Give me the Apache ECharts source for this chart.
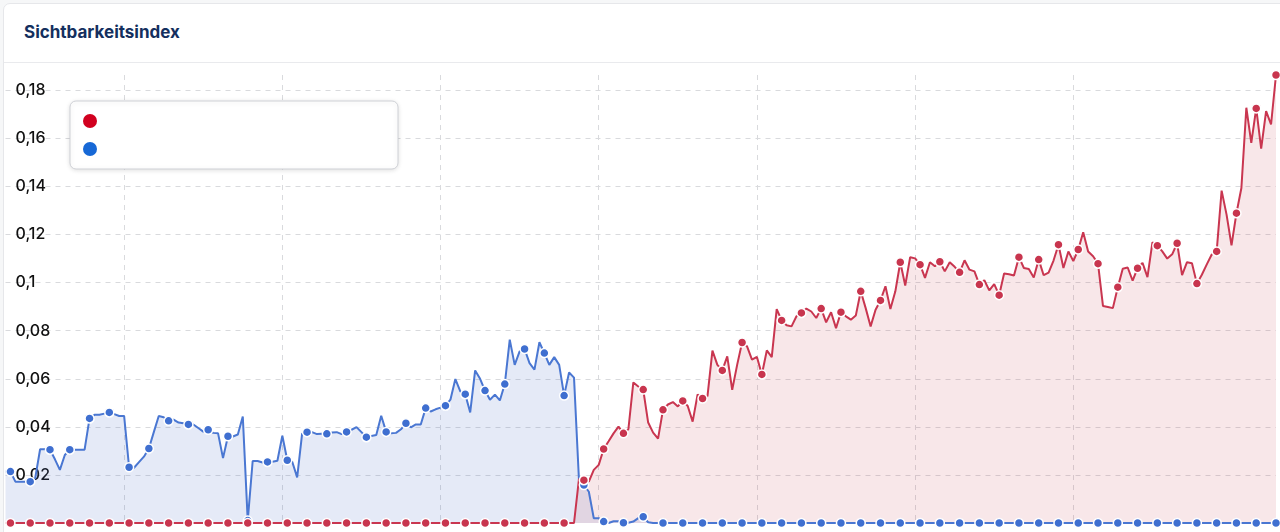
<!DOCTYPE html>
<html>
<head>
<meta charset="utf-8">
<style>
  html, body { margin: 0; padding: 0; width: 1280px; height: 532px; background: #f6f7f8; overflow: hidden; font-family: Inter, "Liberation Sans", Arial, sans-serif; }
  #card { position: absolute; left: 3px; top: 3px; width: 1290px; height: 560px; background: #fff; border: 1px solid #e6e7ea; border-radius: 7px; box-sizing: border-box; }
  #head { position: absolute; left: 0; top: 0; right: 0; height: 58px; border-bottom: 1px solid #e9eaed; }
  #head span { position: absolute; left: 20px; top: 18px; font-size: 17px; font-weight: bold; color: #142f5e; }
  #chart { position: absolute; left: 0; top: 0; width: 1280px; height: 532px; }
</style>
</head>
<body>
  <div id="card"><div id="head"><span>Sichtbarkeitsindex</span></div></div>
  <div id="chart"></div>
  <script src="https://cdn.jsdelivr.net/npm/echarts@6.0.0/dist/echarts.min.js"></script>
  <script>

// weekly values, 258 points
var blue_values = [
  0.0214, 0.0214, 0.0172, 0.0172, 0.0172, 0.0172, 0.0186, 0.0307, 0.0307, 0.0305,
  0.0265, 0.0221, 0.0283, 0.0305, 0.0305, 0.0305, 0.0305, 0.0435, 0.045, 0.045,
  0.0455, 0.046, 0.0453, 0.0445, 0.0445, 0.0232, 0.023, 0.0253, 0.0276, 0.031,
  0.0378, 0.0445, 0.044, 0.0425, 0.043, 0.0418, 0.0415, 0.041, 0.041, 0.0395,
  0.038, 0.0388, 0.0375, 0.0373, 0.027, 0.0361, 0.036, 0.0368, 0.0443, 0.001,
  0.0258, 0.0258, 0.0252, 0.0254, 0.0255, 0.0259, 0.0363, 0.0261, 0.0255, 0.019,
  0.0372, 0.0378, 0.0378, 0.037, 0.0371, 0.0371, 0.0377, 0.0378, 0.037, 0.0379,
  0.0388, 0.0399, 0.0378, 0.0357, 0.0362, 0.0366, 0.0446, 0.0379, 0.0373, 0.0375,
  0.039, 0.0415, 0.0398, 0.041, 0.041, 0.0478, 0.0464, 0.0473, 0.048, 0.0488,
  0.0513, 0.0599, 0.0548, 0.0536, 0.046, 0.0635, 0.06, 0.0551, 0.0513, 0.0534,
  0.051, 0.0578, 0.0763, 0.0658, 0.0714, 0.0724, 0.0665, 0.0638, 0.0752, 0.0707,
  0.0658, 0.069, 0.0658, 0.053, 0.0626, 0.0605, 0.018, 0.0158, 0.013, 0.002,
  0.002, 0.0006, 0, 0.0007, 0.0007, 0.0001, 0.0001, 0.0006, 0.002, 0.0026,
  0.0003, 0, 0, 0, 0, 0, 0, 0, 0, 0,
  0, 0, 0, 0, 0, 0, 0, 0, 0, 0,
  0, 0, 0, 0, 0, 0, 0, 0, 0, 0,
  0, 0, 0, 0, 0, 0, 0, 0, 0, 0,
  0, 0, 0, 0, 0, 0, 0, 0, 0, 0,
  0, 0, 0, 0, 0, 0, 0, 0, 0, 0,
  0, 0, 0, 0, 0, 0, 0, 0, 0, 0,
  0, 0, 0, 0, 0, 0, 0, 0, 0, 0,
  0, 0, 0, 0, 0, 0, 0, 0, 0, 0,
  0, 0, 0, 0, 0, 0, 0, 0, 0, 0,
  0, 0, 0, 0, 0, 0, 0, 0, 0, 0,
  0, 0, 0, 0, 0, 0, 0, 0, 0, 0,
  0, 0, 0, 0, 0, 0, 0, 0, 0, 0,
  0, 0, 0, 0, 0, 0, 0, 0
];

var red_values = [
  0, 0, 0, 0, 0, 0, 0, 0, 0, 0,
  0, 0, 0, 0, 0, 0, 0, 0, 0, 0,
  0, 0, 0, 0, 0, 0, 0, 0, 0, 0,
  0, 0, 0, 0, 0, 0, 0, 0, 0, 0,
  0, 0, 0, 0, 0, 0, 0, 0, 0, 0,
  0, 0, 0, 0, 0, 0, 0, 0, 0, 0,
  0, 0, 0, 0, 0, 0, 0, 0, 0, 0,
  0, 0, 0, 0, 0, 0, 0, 0, 0, 0,
  0, 0, 0, 0, 0, 0, 0, 0, 0, 0,
  0, 0, 0, 0, 0, 0, 0, 0, 0, 0,
  0, 0, 0, 0, 0, 0, 0, 0, 0, 0,
  0, 0, 0, 0, 0, 0, 0.0183, 0.0178, 0.0172, 0.0221,
  0.0242, 0.0308, 0.034, 0.0373, 0.0401, 0.0373, 0.039, 0.0585, 0.0568, 0.0555,
  0.0418, 0.0376, 0.0351, 0.0471, 0.0493, 0.0503, 0.0485, 0.0508, 0.0487, 0.0422,
  0.0535, 0.0518, 0.0528, 0.0717, 0.0658, 0.0635, 0.0693, 0.0554, 0.0658, 0.0751,
  0.0735, 0.068, 0.0691, 0.0618, 0.0718, 0.069, 0.089, 0.0843, 0.0823, 0.0818,
  0.086, 0.0874, 0.0892, 0.088, 0.0853, 0.0892, 0.0835, 0.0877, 0.0811, 0.0877,
  0.086, 0.0846, 0.0863, 0.0964, 0.0894, 0.0818, 0.0887, 0.0926, 0.0985, 0.089,
  0.0964, 0.1085, 0.0988, 0.1106, 0.1101, 0.1075, 0.102, 0.1085, 0.1068, 0.1087,
  0.1047, 0.1085, 0.1066, 0.1043, 0.1093, 0.1054, 0.1047, 0.0992, 0.101, 0.0968,
  0.0994, 0.0948, 0.1038, 0.1035, 0.103, 0.1106, 0.1061, 0.1057, 0.1021, 0.1096,
  0.1031, 0.1042, 0.1092, 0.1158, 0.1061, 0.113, 0.109, 0.1138, 0.121, 0.113,
  0.111, 0.1079, 0.0903, 0.0899, 0.0894, 0.0981, 0.1058, 0.1063, 0.1008, 0.106,
  0.1082, 0.1023, 0.1168, 0.1154, 0.113, 0.11, 0.1118, 0.1164, 0.1031, 0.1085,
  0.1081, 0.0996, 0.1033, 0.1076, 0.1117, 0.113, 0.1383, 0.1283, 0.1155, 0.1289,
  0.1394, 0.1728, 0.1582, 0.1725, 0.1558, 0.1714, 0.1658, 0.1864
];

// x categories: week numbers (labels are not shown in the picture)
var weeks = [];
for (var i = 0; i < red_values.length; i++) {
  weeks.push('W' + (i + 1));
}

var series_names = ['Domain A', 'Domain B'];
var y_ticks = { min: 0, interval: 0.02 };

var chart = echarts.init(document.getElementById('chart'), null, { renderer: 'canvas' });

function dotSize(value, params) {
  // dots on every 4th week
  return params.dataIndex % 4 === 1 ? 9 : 0;
}

var option = {
  animation: false,
  backgroundColor: 'transparent',
  grid: { left: 5.5, right: 4, top: 75, bottom: 9, containLabel: false },
  legend: {
    left: 70,
    top: 101,
    orient: 'vertical',
    icon: 'circle',
    itemWidth: 14,
    itemHeight: 14,
    itemGap: 14,
    padding: [13, 301, 13, 13],
    backgroundColor: '#fff',
    borderColor: '#cfd1d6',
    borderWidth: 1,
    borderRadius: 6,
    shadowBlur: 5,
    shadowColor: 'rgba(0,0,0,0.12)',
    shadowOffsetY: 1,
    formatter: function () { return ''; },
    data: [
      { name: series_names[0], itemStyle: { color: '#d1001f', borderWidth: 0 } },
      { name: series_names[1], itemStyle: { color: '#1768d6', borderWidth: 0 } }
    ]
  },
  xAxis: {
    type: 'category',
    data: weeks,
    boundaryGap: false,
    axisLine: { show: false },
    axisTick: { show: false },
    axisLabel: { show: false },
    splitLine: {
      show: true,
      interval: function (index) { return index >= 24 && index <= 216 && (index - 24) % 32 === 0; },
      lineStyle: { color: '#d9dadd', type: [5, 5], width: 1 }
    }
  },
  yAxis: {
    type: 'value',
    min: y_ticks.min,
    max: 'dataMax',
    interval: y_ticks.interval,
    axisLine: { show: false },
    axisTick: { show: false },
    axisLabel: {
      inside: true,
      margin: 10,
      showMinLabel: false,
      showMaxLabel: false,
      color: '#111',
      fontSize: 16,
      fontWeight: 500,
      fontFamily: 'Inter, Liberation Sans, Arial, sans-serif',
      formatter: function (v) { return String(parseFloat(v.toFixed(2))).replace('.', ','); }
    },
    splitLine: {
      show: true,
      showMinLine: false,
      showMaxLine: false,
      lineStyle: { color: '#d9dadd', type: [5, 5], width: 1 }
    }
  },
  series: [
    {
      name: series_names[1],
      type: 'line',
      data: blue_values,
      showSymbol: true,
      showAllSymbol: true,
      symbol: 'circle',
      symbolSize: dotSize,
      lineStyle: { color: '#4a77d2', width: 2 },
      itemStyle: { color: '#3f6fd0', borderColor: '#fff', borderWidth: 1.5 },
      areaStyle: { color: 'rgba(70,105,200,0.2)' },
      emphasis: { disabled: true }
    },
    {
      name: series_names[0],
      type: 'line',
      data: red_values,
      showSymbol: true,
      showAllSymbol: true,
      symbol: 'circle',
      symbolSize: dotSize,
      lineStyle: { color: '#c93650', width: 2 },
      itemStyle: { color: '#c8354e', borderColor: '#fff', borderWidth: 1.5 },
      areaStyle: { color: 'rgba(200,60,80,0.18)' },
      emphasis: { disabled: true }
    }
  ]
};

chart.setOption(option);
  </script>
</body>
</html>
